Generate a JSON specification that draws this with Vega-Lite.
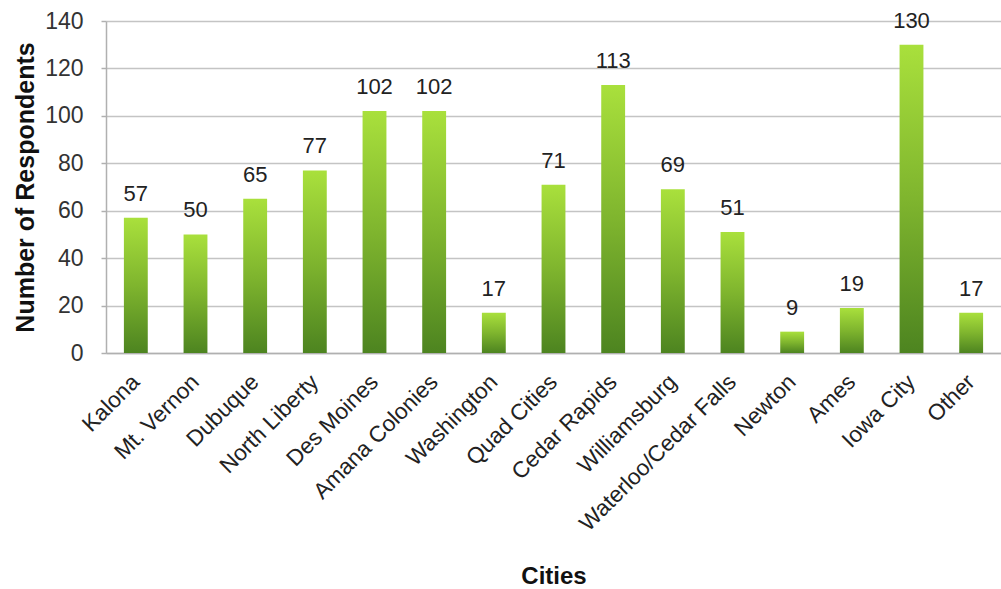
{
  "$schema": "https://vega.github.io/schema/vega-lite/v6.json",
  "width": 895,
  "height": 332,
  "autosize": {"type": "none"},
  "padding": {"left": 106, "top": 21, "right": 0, "bottom": 236},
  "background": "white",
  "config": {
    "font": "Liberation Sans",
    "view": {"stroke": null},
    "axis": {"labelFont": "Liberation Sans", "titleFont": "Liberation Sans"}
  },
  "data": {
    "values": [
      {"city": "Kalona", "count": 57},
      {"city": "Mt. Vernon", "count": 50},
      {"city": "Dubuque", "count": 65},
      {"city": "North Liberty", "count": 77},
      {"city": "Des Moines", "count": 102},
      {"city": "Amana Colonies", "count": 102},
      {"city": "Washington", "count": 17},
      {"city": "Quad Cities", "count": 71},
      {"city": "Cedar Rapids", "count": 113},
      {"city": "Williamsburg", "count": 69},
      {"city": "Waterloo/Cedar Falls", "count": 51},
      {"city": "Newton", "count": 9},
      {"city": "Ames", "count": 19},
      {"city": "Iowa City", "count": 130},
      {"city": "Other", "count": 17}
    ]
  },
  "encoding": {
    "x": {
      "field": "city",
      "type": "nominal",
      "sort": null,
      "scale": {"paddingInner": 0.6, "paddingOuter": 0.3},
      "axis": {
        "title": "Cities",
        "titleFontSize": 24,
        "titleFontWeight": "bold",
        "titleColor": "#111",
        "titlePadding": 30,
        "labelAngle": -45,
        "labelAlign": "right",
        "labelBaseline": "middle",
        "labelFontSize": 22.5,
        "labelColor": "#222",
        "labelPadding": 25,
        "labelLimit": 0,
        "labelOverlap": false,
        "ticks": false,
        "domainColor": "#b0b0b0",
        "domainWidth": 1.5,
        "grid": false
      }
    },
    "y": {
      "field": "count",
      "type": "quantitative",
      "scale": {"domain": [0, 140]},
      "axis": {
        "title": "Number of Respondents",
        "titleFontSize": 25,
        "titleFontWeight": "bold",
        "titleColor": "#111",
        "titlePadding": 6,
        "values": [0, 20, 40, 60, 80, 100, 120, 140],
        "labelFontSize": 23,
        "labelColor": "#333",
        "labelPadding": 18,
        "tickSize": 5,
        "tickColor": "#b0b0b0",
        "tickWidth": 1.5,
        "domainColor": "#b0b0b0",
        "domainWidth": 1.5,
        "gridColor": "#c4c4c4",
        "gridWidth": 1.5
      }
    }
  },
  "layer": [
    {
      "mark": {
        "type": "bar",
        "color": {
          "gradient": "linear",
          "x1": 0, "y1": 0, "x2": 0, "y2": 1,
          "stops": [
            {"offset": 0, "color": "#a9e03c"},
            {"offset": 0.5, "color": "#7fb52e"},
            {"offset": 1, "color": "#4d8420"}
          ]
        }
      }
    },
    {
      "mark": {
        "type": "text",
        "baseline": "alphabetic",
        "dy": -17,
        "fontSize": 22,
        "color": "#222"
      },
      "encoding": {"text": {"field": "count", "type": "quantitative"}}
    }
  ]
}
